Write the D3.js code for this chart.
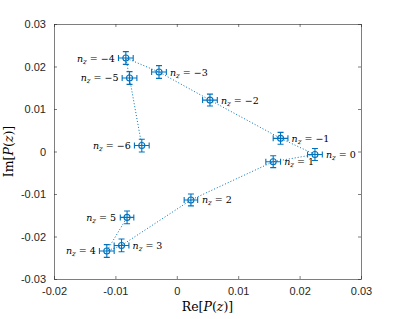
<!DOCTYPE html>
<html>
<head>
<meta charset="utf-8">
<script src="https://cdn.jsdelivr.net/npm/d3@7"></script>
<style>
  body { margin: 0; background: #fff; }
  svg { display: block; }
</style>
</head>
<body>
<svg id="chart"></svg>
<script>
// harmonic index n_z, in the order the dotted line joins them
var nz   = [-6, -5, -4, -3, -2, -1, 0, 1, 2, 3, 4, 5];
var re   = [-0.0057, -0.0077, -0.0083, -0.0029, 0.0054, 0.0169, 0.0225, 0.0157, 0.0023, -0.0090, -0.0114, -0.0081];
var im   = [0.0014, 0.0173, 0.0220, 0.0187, 0.0121, 0.0031, -0.0007, -0.0024, -0.0114, -0.0221, -0.0234, -0.0155];
var reErr = [0.0012, 0.0012, 0.0012, 0.0012, 0.0012, 0.0012, 0.0012, 0.0012, 0.0011, 0.0012, 0.0012, 0.0011];
var imErr = [0.0015, 0.0015, 0.0015, 0.0015, 0.0014, 0.0014, 0.0014, 0.0014, 0.0014, 0.0015, 0.0015, 0.0015];
var labelSide = ['left', 'left', 'left', 'right', 'right', 'right', 'right', 'right', 'right', 'right', 'left', 'left'];
var xTicks = [-0.02, -0.01, 0, 0.01, 0.02, 0.03];
var yTicks = [-0.03, -0.02, -0.01, 0, 0.01, 0.02, 0.03];

var W = 399, H = 319;
var margin = {top: 24, right: 38, bottom: 40, left: 54};
var width = W - margin.left - margin.right,
    height = H - margin.top - margin.bottom;
var blue = '#0072BD', axisCol = '#262626';

var svg = d3.select('#chart').attr('width', W).attr('height', H);
svg.append('rect').attr('width', W).attr('height', H).attr('fill', 'white');

var g = svg.append('g').attr('transform', 'translate(' + margin.left + ',' + margin.top + ')');

var x = d3.scaleLinear().domain([-0.02, 0.03]).range([0, width]);
var y = d3.scaleLinear().domain([-0.03, 0.03]).range([height, 0]);

var fmt = function(d) { return d === 0 ? '0' : d3.format('.2f')(d).replace('−', '-'); };
var tickLen = 3;

// axes (MATLAB-like box with inward ticks)
function styleAxis(sel) {
    sel.selectAll('path').attr('stroke', axisCol).attr('stroke-width', 0.6);
    sel.selectAll('line').attr('stroke', axisCol).attr('stroke-width', 0.6);
    sel.selectAll('text').attr('fill', axisCol)
        .style('font-family', '"Liberation Sans", Arial, sans-serif').style('font-size', '11px');
}
g.append('g').attr('transform', 'translate(0,' + height + ')')
    .call(d3.axisBottom(x).tickValues(xTicks).tickFormat(fmt).tickSizeInner(-tickLen).tickSizeOuter(0).tickPadding(8))
    .call(styleAxis);
g.append('g')
    .call(d3.axisTop(x).tickValues(xTicks).tickFormat('').tickSizeInner(-tickLen).tickSizeOuter(0))
    .call(styleAxis);
g.append('g')
    .call(d3.axisLeft(y).tickValues(yTicks).tickFormat(fmt).tickSizeInner(-tickLen).tickSizeOuter(0).tickPadding(8))
    .call(styleAxis);
g.append('g').attr('transform', 'translate(' + width + ',0)')
    .call(d3.axisRight(y).tickValues(yTicks).tickFormat('').tickSizeInner(-tickLen).tickSizeOuter(0))
    .call(styleAxis);

var data = nz.map(function(n, i) {
    return {n: n, re: re[i], im: im[i], ex: reErr[i], ey: imErr[i], side: labelSide[i]};
});

// dotted connecting line
var line = d3.line().x(d => x(d.re)).y(d => y(d.im));
g.append('path').datum(data)
    .attr('d', line)
    .attr('fill', 'none')
    .attr('stroke', blue)
    .attr('stroke-width', 1)
    .attr('stroke-dasharray', '1,2');

// error bars
var cap = 3;
var eb = g.append('g').attr('stroke', blue).attr('stroke-width', 1.1).attr('fill', 'none');
data.forEach(function(d) {
    var cx = x(d.re), cy = y(d.im);
    var x0 = x(d.re - d.ex), x1 = x(d.re + d.ex);
    var y0 = y(d.im - d.ey), y1 = y(d.im + d.ey);
    eb.append('path').attr('d',
        'M' + x0 + ',' + cy + 'H' + x1 +
        'M' + x0 + ',' + (cy - cap) + 'V' + (cy + cap) +
        'M' + x1 + ',' + (cy - cap) + 'V' + (cy + cap) +
        'M' + cx + ',' + y0 + 'V' + y1 +
        'M' + (cx - cap) + ',' + y0 + 'H' + (cx + cap) +
        'M' + (cx - cap) + ',' + y1 + 'H' + (cx + cap));
});

// open circle markers
g.append('g').selectAll('circle')
    .data(data)
    .enter()
    .append('circle')
        .attr('cx', d => x(d.re))
        .attr('cy', d => y(d.im))
        .attr('r', 3)
        .attr('fill', 'none')
        .attr('stroke', blue)
        .attr('stroke-width', 1.1);

// n_z labels
var lab = g.append('g').selectAll('text')
    .data(data)
    .enter()
    .append('text')
        .attr('x', d => x(d.re) + (d.side === 'left' ? -11 : 11))
        .attr('y', d => y(d.im) + 3.5)
        .attr('text-anchor', d => d.side === 'left' ? 'end' : 'start')
        .attr('fill', '#000')
        .style('font-family', '"DejaVu Serif", serif')
        .style('font-size', '9.5px')
        .style('white-space', 'pre');
lab.append('tspan').style('font-style', 'italic').text('n');
lab.append('tspan').style('font-style', 'italic').style('font-size', '7px').attr('dy', 2).text('z');
lab.append('tspan').attr('dy', -2).text(d => ' = ' + (d.n < 0 ? '\u2212' + (-d.n) : d.n));

// axis titles
var titleFont = '"DejaVu Serif", serif';
svg.append('text')
    .attr('x', margin.left + width / 2)
    .attr('y', H - 8)
    .attr('text-anchor', 'middle')
    .style('font-family', titleFont).style('font-size', '12.5px')
    .html('Re[<tspan font-style="italic">P</tspan>(<tspan font-style="italic">z</tspan>)]');
svg.append('text')
    .attr('transform', 'translate(13,' + (margin.top + height / 2) + ') rotate(-90)')
    .attr('text-anchor', 'middle')
    .style('font-family', titleFont).style('font-size', '12.5px')
    .html('Im[<tspan font-style="italic">P</tspan>(<tspan font-style="italic">z</tspan>)]');
</script>
</body>
</html>
